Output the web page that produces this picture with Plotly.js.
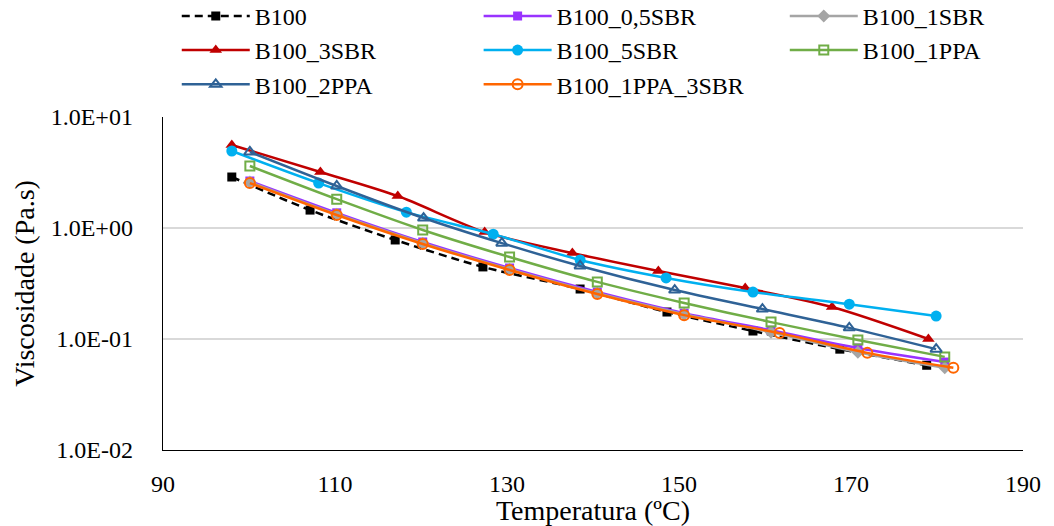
<!DOCTYPE html>
<html>
<head>
<meta charset="utf-8">
<script src="https://cdn.plot.ly/plotly-3.0.1.min.js"></script>
<style>html,body{margin:0;padding:0;background:#fff;}#chart{width:1054px;height:526px;}</style>
</head>
<body>
<div id="chart"></div>
<script>
// Series names
var names = ["B100", "B100_0,5SBR", "B100_1SBR", "B100_3SBR", "B100_5SBR", "B100_1PPA", "B100_2PPA", "B100_1PPA_3SBR"];

// Temperatures (°C) and viscosities (Pa.s)
var t_B100 = [98.0, 107.1, 117.0, 127.2, 138.5, 148.6, 158.6, 168.7, 178.8];
var v_B100 = [2.88, 1.45, 0.78, 0.446, 0.282, 0.175, 0.118, 0.081, 0.058];

var t_B100_05SBR = [100.1, 110.2, 120.2, 130.3, 140.5, 150.6, 160.7, 170.8, 180.9];
var v_B100_05SBR = [2.65, 1.37, 0.748, 0.436, 0.265, 0.171, 0.120, 0.083, 0.062];

var t_B100_1SBR = [100.1, 110.2, 120.2, 130.3, 140.5, 150.6, 160.7, 170.8, 180.9];
var v_B100_1SBR = [2.60, 1.33, 0.73, 0.425, 0.258, 0.167, 0.115, 0.076, 0.055];

var t_B100_3SBR = [98.0, 108.3, 117.3, 127.4, 137.6, 147.6, 157.7, 167.8, 179.0];
var v_B100_3SBR = [5.6, 3.2, 1.94, 0.92, 0.595, 0.41, 0.288, 0.194, 0.100];

var t_B100_5SBR = [98.0, 108.1, 118.3, 128.4, 138.5, 148.5, 158.6, 169.8, 179.9];
var v_B100_5SBR = [4.94, 2.54, 1.39, 0.88, 0.515, 0.355, 0.265, 0.206, 0.161];

var t_B100_1PPA = [100.1, 110.2, 120.2, 130.3, 140.5, 150.6, 160.7, 170.8, 180.9];
var v_B100_1PPA = [3.62, 1.82, 0.96, 0.548, 0.327, 0.211, 0.142, 0.098, 0.069];

var t_B100_2PPA = [100.1, 110.2, 120.3, 129.4, 138.5, 149.5, 159.7, 169.8, 179.9];
var v_B100_2PPA = [4.84, 2.39, 1.23, 0.73, 0.455, 0.276, 0.186, 0.126, 0.081];

var t_B100_1PPA_3SBR = [100.1, 110.2, 120.2, 130.3, 140.5, 150.6, 161.7, 171.9, 181.9];
var v_B100_1PPA_3SBR = [2.54, 1.31, 0.718, 0.419, 0.254, 0.164, 0.113, 0.075, 0.055];

// Axis ticks
var xTicks = [90, 110, 130, 150, 170, 190];
var yTickVals = [0.01, 0.1, 1, 10];
var yTickText = ["1.0E-02", "1.0E-01", "1.0E+00", "1.0E+01"];

var FONT = "Liberation Serif, Times New Roman, serif";

function tr(i, x, y, color, symbol, size, dash, legend, mlw) {
  return {
    type: "scatter", mode: "lines+markers", name: names[i], x: x, y: y,
    legend: legend,
    line: {color: color, width: 2.5, shape: "spline", smoothing: 0.8, dash: dash || "solid"},
    marker: {color: color, symbol: symbol, size: size, line: {color: color, width: mlw || 0}}
  };
}

var data = [
  tr(0, t_B100, v_B100, "#000000", "square", 9, "8px,5px", "legend"),
  tr(1, t_B100_05SBR, v_B100_05SBR, "#9933FF", "square", 9, null, "legend2"),
  tr(2, t_B100_1SBR, v_B100_1SBR, "#A5A5A5", "diamond", 10, null, "legend3"),
  tr(3, t_B100_3SBR, v_B100_3SBR, "#C00000", "triangle-up", 11, null, "legend"),
  tr(4, t_B100_5SBR, v_B100_5SBR, "#00B0F0", "circle", 11, null, "legend2"),
  tr(5, t_B100_1PPA, v_B100_1PPA, "#70AD47", "square-open", 9, null, "legend3", 2),
  tr(6, t_B100_2PPA, v_B100_2PPA, "#2F6296", "triangle-up-open", 10, null, "legend", 2),
  tr(7, t_B100_1PPA_3SBR, v_B100_1PPA_3SBR, "#FF6600", "circle-open", 10, null, "legend2", 2)
];

function leg(x) {
  return {x: x, xanchor: "left", y: 1.37, yanchor: "top", orientation: "v",
    font: {family: FONT, size: 24, color: "#000"}, bgcolor: "rgba(0,0,0,0)",
    itemwidth: 68, tracegroupgap: 0, traceorder: "normal"};
}

var layout = {
  width: 1054, height: 526,
  margin: {l: 163, r: 31, t: 117, b: 76, autoexpand: false},
  paper_bgcolor: "#fff", plot_bgcolor: "#fff",
  font: {family: FONT, size: 24, color: "#000"},
  xaxis: {
    range: [90, 190], tickvals: xTicks, ticktext: xTicks.map(String),
    showgrid: false, zeroline: false, showline: true, linecolor: "#000", linewidth: 1.3,
    ticks: "", ticklabelstandoff: 12,
    tickfont: {family: FONT, size: 24, color: "#000"},
    title: {text: "Temperatura (ºC)", font: {family: FONT, size: 28, color: "#000"}, standoff: 4}
  },
  yaxis: {
    type: "log", range: [-2, 1], tickvals: yTickVals, ticktext: yTickText,
    showgrid: true, gridcolor: "#D9D9D9", gridwidth: 1.3,
    zeroline: false, showline: true, linecolor: "#000", linewidth: 1.3,
    ticks: "", ticklabelstandoff: 24,
    tickfont: {family: FONT, size: 24, color: "#000"},
    title: {text: "Viscosidade (Pa.s)", font: {family: FONT, size: 28, color: "#000"}, standoff: 8}
  },
  legend: leg(0.016),
  legend2: leg(0.367),
  legend3: leg(0.723),
  showlegend: true
};

Plotly.newPlot("chart", data, layout, {displayModeBar: false, staticPlot: true});
</script>
</body>
</html>
